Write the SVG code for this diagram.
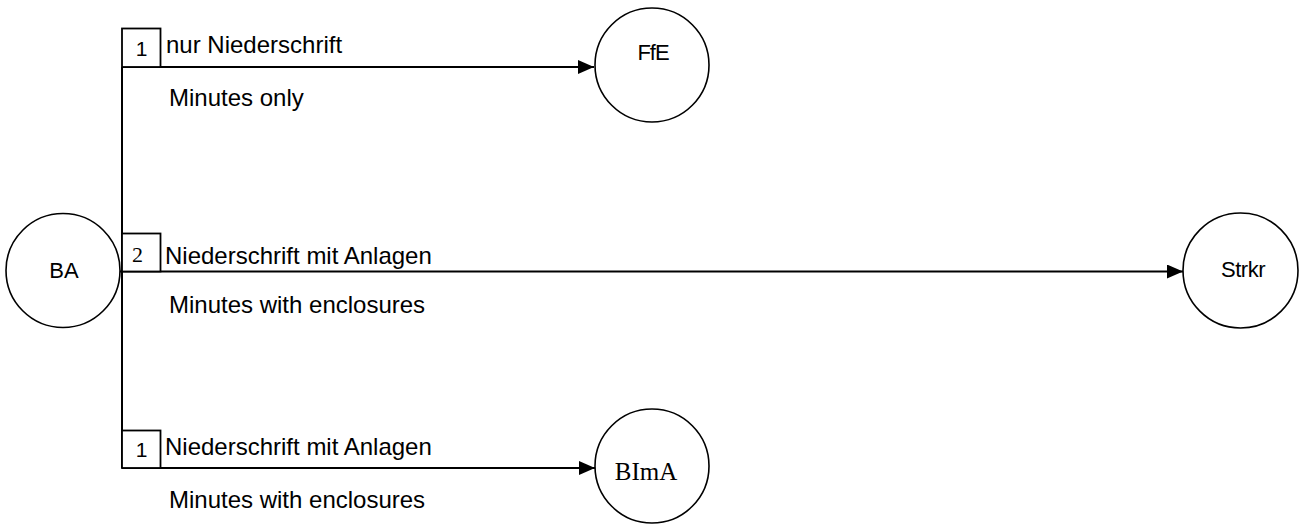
<svg xmlns="http://www.w3.org/2000/svg" width="1300" height="525" viewBox="0 0 1300 525">
<style>
.node{fill:#fff;stroke:#000;stroke-width:1.6}
.conn{fill:none;stroke:#000;stroke-width:2}
.box{fill:#fff;stroke:#000;stroke-width:1.8}
.sans{font-family:"Liberation Sans",Arial,sans-serif;fill:#000}
.serif{font-family:"Liberation Serif","Times New Roman",serif;fill:#000}
.lbl{font-size:24px}
.nl{font-size:22px;text-anchor:middle}
.num{font-size:21px;text-anchor:middle}
</style>
<defs>
<marker id="arr" markerWidth="16" markerHeight="14" refX="16" refY="7" orient="auto" markerUnits="userSpaceOnUse">
<path d="M0,0 L16,7 L0,14 Z" fill="#000"/>
</marker>
</defs>
<rect width="1300" height="525" fill="#fff"/>
<g id="connectors">
<path class="conn" d="M122,67 V468"/>
<path class="conn" d="M122,67 H594" marker-end="url(#arr)"/>
<path class="conn" d="M120,271.5 H1183" marker-end="url(#arr)"/>
<path class="conn" d="M122,468 H595" marker-end="url(#arr)"/>
<rect class="box" x="122" y="28.5" width="38.5" height="38.5"/>
<text class="sans num" x="141.5" y="56">1</text>
<rect class="box" x="122" y="233.5" width="38.5" height="38"/>
<text class="serif num" x="137.5" y="262" style="font-size:22px">2</text>
<rect class="box" x="122" y="430.5" width="38.5" height="37.5"/>
<text class="sans num" x="141.5" y="457">1</text>
<text class="sans lbl" x="166" y="53">nur Niederschrift</text>
<text class="sans lbl" x="169" y="106">Minutes only</text>
<text class="sans lbl" x="165" y="264">Niederschrift mit Anlagen</text>
<text class="sans lbl" x="169" y="313">Minutes with enclosures</text>
<text class="sans lbl" x="165" y="455">Niederschrift mit Anlagen</text>
<text class="sans lbl" x="169" y="508">Minutes with enclosures</text>
</g>
<g id="BA">
<circle class="node" cx="63" cy="270.5" r="57"/>
<text class="sans nl" x="64" y="278">BA</text>
</g>
<g id="FfE">
<circle class="node" cx="652" cy="65" r="57"/>
<text class="sans nl" x="653" y="60" style="letter-spacing:-1px">FfE</text>
</g>
<g id="Strkr">
<circle class="node" cx="1240.5" cy="270.5" r="57.5"/>
<text class="sans nl" x="1243" y="277" style="letter-spacing:-0.5px">Strkr</text>
</g>
<g id="BImA">
<circle class="node" cx="652" cy="466" r="57"/>
<text class="serif nl" x="646" y="480" style="font-size:25px">BImA</text>
</g>
</svg>
